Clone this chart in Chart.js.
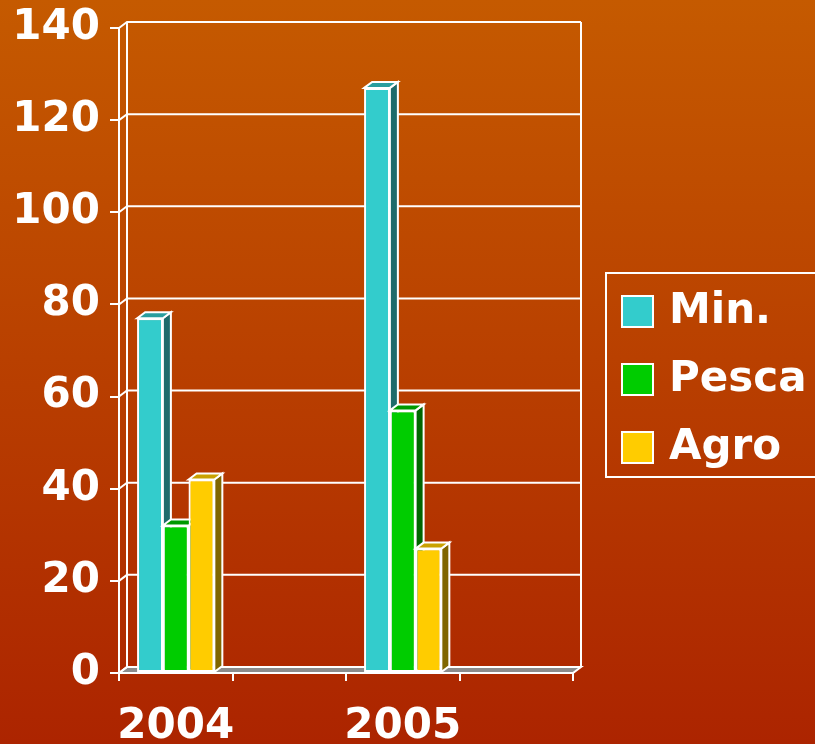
<!DOCTYPE html>
<html><head><meta charset="utf-8">
<script src="https://cdn.jsdelivr.net/npm/chart.js@4/dist/chart.umd.min.js"></script>
<style>
html,body{margin:0;padding:0;width:815px;height:744px;overflow:hidden;background:linear-gradient(to bottom,#C55A00,#AC2400);}
#wrap{position:relative;width:815px;height:744px;}
canvas{display:block;}
</style></head><body>
<div id="wrap"><canvas id="c" width="815" height="744"></canvas></div>
<script>
// ---- data ----
const categories = ['2004', '', '2005', ''];
const seriesNames = ['Min.', 'Pesca', 'Agro'];
const minValues = [77, null, 127, null];
const pescaValues = [32, null, 57, null];
const agroValues = [42, null, 27, null];
const yMin = 0, yMax = 140, yStep = 20;

// ---- styles ----
const frontColors = ['#33CCCC', '#00CC00', '#FFCC00'];
const sideColors = ['#1E6B6B', '#006600', '#806600'];
const topColors = ['#2A9E9E', '#009900', '#C9A100'];
const FONT = 'bold 42px "DejaVu Sans"';
const WALL_DX = 8, WALL_DY = 6, BAR_DX = 8, BAR_DY = 6;

const threeD = {
  id: 'threeD',
  beforeDatasetsDraw(chart) {
    const {ctx, chartArea: a, scales: {y}} = chart;
    ctx.save();
    ctx.strokeStyle = '#fff'; ctx.lineWidth = 2; ctx.lineJoin = 'miter';
    // floor
    ctx.beginPath();
    ctx.moveTo(a.left, a.bottom); ctx.lineTo(a.right, a.bottom);
    ctx.lineTo(a.right + WALL_DX, a.bottom - WALL_DY); ctx.lineTo(a.left + WALL_DX, a.bottom - WALL_DY);
    ctx.closePath();
    ctx.fillStyle = '#8C8C8C'; ctx.fill(); ctx.stroke();
    // back wall grid + left wall diagonals
    y.ticks.forEach(t => {
      const py = y.getPixelForValue(t.value);
      ctx.beginPath();
      ctx.moveTo(a.left, py); ctx.lineTo(a.left + WALL_DX, py - WALL_DY); ctx.lineTo(a.right + WALL_DX, py - WALL_DY);
      ctx.stroke();
    });
    ctx.beginPath();
    ctx.moveTo(a.left + WALL_DX, a.top - WALL_DY); ctx.lineTo(a.left + WALL_DX, a.bottom - WALL_DY);
    ctx.moveTo(a.right + WALL_DX, a.top - WALL_DY); ctx.lineTo(a.right + WALL_DX, a.bottom - WALL_DY);
    ctx.stroke();
    ctx.restore();
  },
  afterDatasetsDraw(chart) {
    const {ctx} = chart;
    const n = chart.data.labels.length;
    ctx.save();
    for (let j = 0; j < n; j++) {
      chart.data.datasets.forEach((ds, i) => {
        if (ds.data[j] == null) return;
        const el = chart.getDatasetMeta(i).data[j];
        if (!el) return;
        const p = el.getProps(['x', 'y', 'base', 'width'], true);
        el.draw(ctx);
        const l = p.x - p.width / 2, r = p.x + p.width / 2, t = p.y, b = p.base;
        ctx.strokeStyle = '#fff'; ctx.lineWidth = 2; ctx.lineJoin = 'miter';
        // side
        ctx.beginPath();
        ctx.moveTo(r, t); ctx.lineTo(r + BAR_DX, t - BAR_DY); ctx.lineTo(r + BAR_DX, b - BAR_DY); ctx.lineTo(r, b);
        ctx.closePath();
        ctx.fillStyle = sideColors[i]; ctx.fill(); ctx.stroke();
        // top
        ctx.beginPath();
        ctx.moveTo(l, t); ctx.lineTo(l + BAR_DX, t - BAR_DY); ctx.lineTo(r + BAR_DX, t - BAR_DY); ctx.lineTo(r, t);
        ctx.closePath();
        ctx.fillStyle = topColors[i]; ctx.fill(); ctx.stroke();
      });
    }
    ctx.restore();
  },
  afterDraw(chart) {
    const {ctx, chartArea: a} = chart;
    ctx.save();
    const lx = a.right + 33, ly = 273, lw = 260, lh = 204;
    ctx.strokeStyle = '#fff'; ctx.lineWidth = 2;
    ctx.strokeRect(lx, ly, lw, lh);
    chart.data.datasets.forEach((ds, i) => {
      const cy = ly + 38.5 + i * 68;
      ctx.fillStyle = ds.backgroundColor;
      ctx.fillRect(lx + 16, cy - 15.5, 31, 31);
      ctx.strokeRect(lx + 16, cy - 15.5, 31, 31);
      ctx.fillStyle = '#fff'; ctx.font = FONT; ctx.textBaseline = 'middle'; ctx.textAlign = 'left';
      ctx.fillText(ds.label, lx + 63, cy + 1);
    });
    ctx.restore();
  }
};

const seriesValues = [minValues, pescaValues, agroValues];
new Chart(document.getElementById('c'), {
  type: 'bar',
  data: {
    labels: categories,
    datasets: seriesNames.map((name, i) => ({
      label: name,
      data: seriesValues[i],
      backgroundColor: frontColors[i],
      borderColor: '#fff',
      borderWidth: 2,
      borderSkipped: false,
      categoryPercentage: 0.68,
      barPercentage: 1
    }))
  },
  options: {
    responsive: false,
    animation: false,
    devicePixelRatio: 1,
    layout: {padding: {left: 0, top: 28, right: 242, bottom: 0}},
    plugins: {legend: {display: false}, tooltip: {enabled: false}},
    scales: {
      x: {
        grid: {display: true, drawOnChartArea: false, drawTicks: true, tickLength: 8, color: '#fff', lineWidth: 2, offset: true},
        border: {display: true, color: '#fff', width: 2},
        ticks: {color: '#fff', font: {family: 'DejaVu Sans', weight: 'bold', size: 42}, padding: 21, maxRotation: 0, autoSkip: false},
        afterFit: s => { s.height = 71; s.paddingLeft = 0; s.paddingRight = 0; }
      },
      y: {
        min: yMin, max: yMax,
        grid: {display: true, drawOnChartArea: false, drawTicks: true, tickLength: 9, color: '#fff', lineWidth: 2},
        border: {display: true, color: '#fff', width: 2},
        ticks: {stepSize: yStep, color: '#fff', font: {family: 'DejaVu Sans', weight: 'bold', size: 42}, padding: 10},
        afterFit: s => { s.width = 119; s.paddingTop = 0; s.paddingBottom = 0; }
      }
    }
  },
  plugins: [threeD]
});
</script>
</body></html>
